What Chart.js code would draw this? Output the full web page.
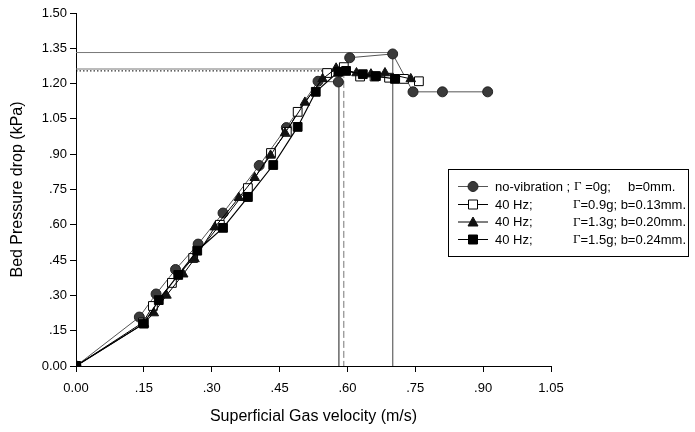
<!DOCTYPE html>
<html>
<head>
<meta charset="utf-8">
<script src="https://cdn.jsdelivr.net/npm/chart.js@4.4.0/dist/chart.umd.min.js"></script>
<style>
  html, body { margin: 0; padding: 0; background: #fff; }
  canvas { display: block; }
</style>
</head>
<body>
<canvas id="bedChart" width="695" height="432"></canvas>
<script>
// no-vibration ; G=0g ; b=0mm
var noVibX = [0, 0.14, 0.177, 0.22, 0.27, 0.325, 0.405, 0.465, 0.535, 0.58, 0.605, 0.70, 0.745, 0.81, 0.91];
var noVibY = [0, 0.208, 0.306, 0.41, 0.518, 0.65, 0.852, 1.013, 1.21, 1.207, 1.31, 1.326, 1.165, 1.165, 1.165];
// 40 Hz ; G=0.9g ; b=0.13mm
var hz09X = [0, 0.148, 0.17, 0.212, 0.259, 0.318, 0.38, 0.431, 0.466, 0.49, 0.555, 0.592, 0.628, 0.66, 0.692, 0.725, 0.758];
var hz09Y = [0, 0.185, 0.255, 0.353, 0.459, 0.60, 0.756, 0.905, 0.995, 1.08, 1.245, 1.27, 1.23, 1.23, 1.225, 1.22, 1.21];
// 40 Hz ; G=1.3g ; b=0.20mm
var hz13X = [0, 0.15, 0.172, 0.20, 0.237, 0.262, 0.307, 0.36, 0.395, 0.43, 0.462, 0.506, 0.545, 0.575, 0.62, 0.652, 0.683, 0.74];
var hz13Y = [0, 0.18, 0.225, 0.30, 0.39, 0.455, 0.59, 0.715, 0.80, 0.895, 0.99, 1.12, 1.22, 1.265, 1.245, 1.24, 1.245, 1.22];
// 40 Hz ; G=1.5g ; b=0.24mm
var hz15X = [0, 0.15, 0.183, 0.226, 0.268, 0.325, 0.38, 0.436, 0.49, 0.53, 0.58, 0.597, 0.634, 0.663, 0.705];
var hz15Y = [0, 0.18, 0.28, 0.387, 0.49, 0.587, 0.718, 0.854, 1.016, 1.165, 1.25, 1.254, 1.24, 1.232, 1.22];

// guide lines
var guideTopX = [0, 0.70, 0.70];
var guideTopY = [1.332, 1.332, 0];
var guideMidX = [0, 0.581, 0.581];
var guideMidY = [1.262, 1.262, 0];
var guideDotX = [0, 0.592];
var guideDotY = [1.254, 1.254];
var guideDashX = [0.592, 0.592];
var guideDashY = [1.254, 0];

var xTicks = [0, 0.15, 0.30, 0.45, 0.60, 0.75, 0.90, 1.05];
var yTicks = [0, 0.15, 0.30, 0.45, 0.60, 0.75, 0.90, 1.05, 1.20, 1.35, 1.50];

var legendRows = [
  { col1: 'no-vibration ;', g: ' =0g;', b: 'b=0mm.' },
  { col1: '40 Hz;', g: '=0.9g; b=0.13mm.', b: '' },
  { col1: '40 Hz;', g: '=1.3g; b=0.20mm.', b: '' },
  { col1: '40 Hz;', g: '=1.5g; b=0.24mm.', b: '' }
];

function pts(xs, ys) {
  var out = [];
  for (var i = 0; i < xs.length; i++) out.push({ x: xs[i], y: ys[i] });
  return out;
}

function fmt(v) {
  var s = (Math.round(v * 100) / 100).toFixed(2);
  if (v > 0 && v < 1) s = s.substring(1);
  return s;
}

function guide(xs, ys, dash, color) {
  return {
    data: pts(xs, ys), showLine: true, borderColor: color, borderWidth: 1,
    borderDash: dash, pointRadius: 0, pointHoverRadius: 0, fill: false, order: 10
  };
}

var series = [
  { data: pts(noVibX, noVibY), showLine: true, borderColor: '#555', borderWidth: 1,
    pointStyle: 'circle', pointRadius: 5, backgroundColor: '#3a3a3a', pointBorderColor: '#222', pointBorderWidth: 1, order: 4 },
  { data: pts(hz09X, hz09Y), showLine: true, borderColor: '#000', borderWidth: 1,
    pointStyle: 'rect', pointRadius: 6.2, backgroundColor: '#fff', pointBorderColor: '#000', pointBorderWidth: 1, order: 3 },
  { data: pts(hz13X, hz13Y), showLine: true, borderColor: '#000', borderWidth: 1,
    pointStyle: 'triangle', pointRadius: 5.5, backgroundColor: '#111', pointBorderColor: '#111', pointBorderWidth: 1, order: 2 },
  { data: pts(hz15X, hz15Y), showLine: true, borderColor: '#000', borderWidth: 1.2,
    pointStyle: 'rect', pointRadius: 6.2, backgroundColor: '#000', pointBorderColor: '#000', pointBorderWidth: 1, order: 1 }
];

// legend box drawn on the canvas
var boxLegend = {
  id: 'boxLegend',
  afterDraw: function (chart) {
    var ctx = chart.ctx;
    ctx.save();
    ctx.strokeStyle = '#000';
    ctx.lineWidth = 1;
    ctx.strokeRect(448.5, 169.5, 240, 87);
    var rowY = [186, 204, 221.5, 239];
    for (var i = 0; i < legendRows.length; i++) {
      var y = rowY[i];
      var ds = series[i];
      ctx.strokeStyle = ds.borderColor;
      ctx.lineWidth = 1;
      ctx.beginPath();
      ctx.moveTo(458, y + 0.5);
      ctx.lineTo(488, y + 0.5);
      ctx.stroke();
      ctx.fillStyle = ds.backgroundColor;
      ctx.strokeStyle = ds.pointBorderColor;
      ctx.beginPath();
      if (ds.pointStyle === 'circle') {
        ctx.arc(473, y + 0.5, 5, 0, Math.PI * 2);
      } else if (ds.pointStyle === 'rect') {
        ctx.rect(468.5, y - 4, 9, 9);
      } else {
        ctx.moveTo(473, y - 4.5);
        ctx.lineTo(478, y + 4.5);
        ctx.lineTo(468, y + 4.5);
        ctx.closePath();
      }
      ctx.fill();
      ctx.stroke();

      var r = legendRows[i];
      ctx.fillStyle = '#000';
      ctx.textBaseline = 'middle';
      ctx.textAlign = 'left';
      ctx.font = '13px "Liberation Sans", Arial, sans-serif';
      ctx.fillText(r.col1, 495, y + 1);
      var gx = i === 0 ? 574 : 573;
      ctx.font = '13px "Liberation Serif", "Times New Roman", serif';
      ctx.fillText('\u0393', gx, y + 1);
      var gw = ctx.measureText('\u0393').width;
      ctx.font = '13px "Liberation Sans", Arial, sans-serif';
      ctx.fillText(r.g, gx + gw, y + 1);
      if (r.b) ctx.fillText(r.b, 628, y + 1);
    }
    ctx.restore();
  }
};

var tickFont = { family: '"Liberation Sans", Arial, sans-serif', size: 13 };
var titleFont = { family: '"Liberation Sans", Arial, sans-serif', size: 16 };

new Chart(document.getElementById('bedChart'), {
  type: 'scatter',
  data: {
    datasets: series.concat([
      guide(guideTopX, guideTopY, [], '#777'),
      guide(guideMidX, guideMidY, [], '#777'),
      guide(guideDotX, guideDotY, [1.5, 2], '#000'),
      guide(guideDashX, guideDashY, [7, 3], '#777')
    ])
  },
  options: {
    responsive: false,
    animation: false,
    events: [],
    layout: { padding: { left: 0, right: 144, top: 13, bottom: 0 } },
    plugins: { legend: { display: false }, tooltip: { enabled: false } },
    scales: {
      x: {
        type: 'linear', min: 0, max: 1.05,
        afterBuildTicks: function (s) { s.ticks = xTicks.map(function (v) { return { value: v }; }); },
        afterFit: function (s) { s.height = 66; },
        grid: { drawOnChartArea: false, drawTicks: true, tickLength: 6, color: '#000' },
        border: { color: '#000', width: 1 },
        ticks: { color: '#000', font: tickFont, padding: 9, maxRotation: 0, autoSkip: false, callback: fmt },
        title: { display: true, text: 'Superficial Gas velocity (m/s)', color: '#000', font: titleFont, padding: { bottom: 6 } }
      },
      y: {
        type: 'linear', min: 0, max: 1.5,
        afterBuildTicks: function (s) { s.ticks = yTicks.map(function (v) { return { value: v }; }); },
        afterFit: function (s) { s.width = 76; },
        grid: { drawOnChartArea: false, drawTicks: true, tickLength: 6, color: '#000' },
        border: { color: '#000', width: 1 },
        ticks: { color: '#000', font: tickFont, padding: 3, autoSkip: false, callback: fmt },
        title: { display: true, text: 'Bed Pressure drop (kPa)', color: '#000', font: titleFont, padding: { top: 8 } }
      }
    }
  },
  plugins: [boxLegend]
});
</script>
</body>
</html>
